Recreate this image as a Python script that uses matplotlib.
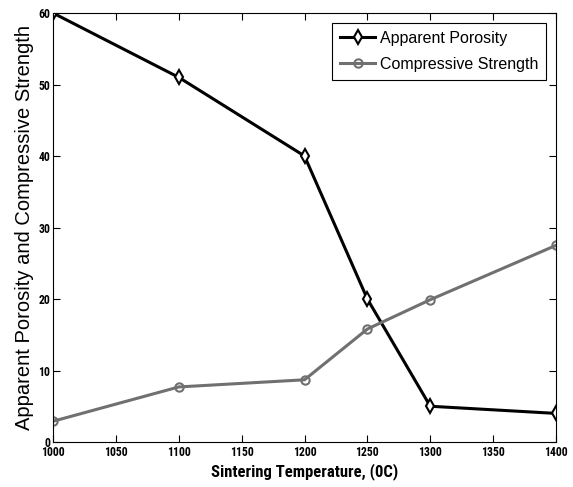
import matplotlib
matplotlib.use("Agg")
import matplotlib.pyplot as plt
import numpy as np

temps = [1000, 1100, 1200, 1250, 1300, 1400]
porosity = [60, 51, 40, 20, 5.0, 4.0]
strength = [2.9, 7.7, 8.7, 15.8, 19.9, 27.5]

narrow = ['Roboto Condensed', 'DejaVu Sans']
plain = ['Liberation Sans', 'DejaVu Sans']

fig = plt.figure(figsize=(5.73, 4.87), dpi=100)
ax = fig.add_axes([53 / 573, 1 - 442 / 487, (556 - 53) / 573, (442 - 13) / 487])

ax.plot(temps, porosity, color='black', lw=2.2, marker='d', ms=7,
        mfc='white', mew=1.5, label='Apparent Porosity')
ax.plot(temps, strength, color='#707070', lw=2.2, marker='o', ms=6,
        mfc='none', mew=1.5, label='Compressive Strength')

ax.set_xlim(1000, 1400)
ax.set_ylim(0, 60)
ax.set_xticks(np.arange(1000, 1401, 50))
ax.set_yticks(np.arange(0, 61, 10))
ax.tick_params(direction='in', top=True, right=True, length=5, pad=2)
ax.tick_params(axis='x', pad=3)
for lab in ax.get_xticklabels() + ax.get_yticklabels():
    lab.set_family(narrow)
    lab.set_fontweight('bold')
    lab.set_fontsize(8.5)
    lab.set_fontstretch('condensed')

ax.set_xlabel('Sintering Temperature, (0C)', family=narrow, fontweight='bold',
              fontstretch='condensed', fontsize=12, labelpad=3)
ax.set_ylabel('Apparent Porosity and Compressive Strength', fontsize=14.5,
              family=plain, labelpad=3)

leg = ax.legend(loc='upper right', fancybox=False,
                edgecolor='black', framealpha=1, handlelength=2.2,
                handletextpad=0.3, borderaxespad=0.6, labelspacing=0.7,
                borderpad=0.5, prop={'family': plain, 'size': 11.5})
leg.get_frame().set_linewidth(0.8)

plt.savefig('out.png', dpi=100)
